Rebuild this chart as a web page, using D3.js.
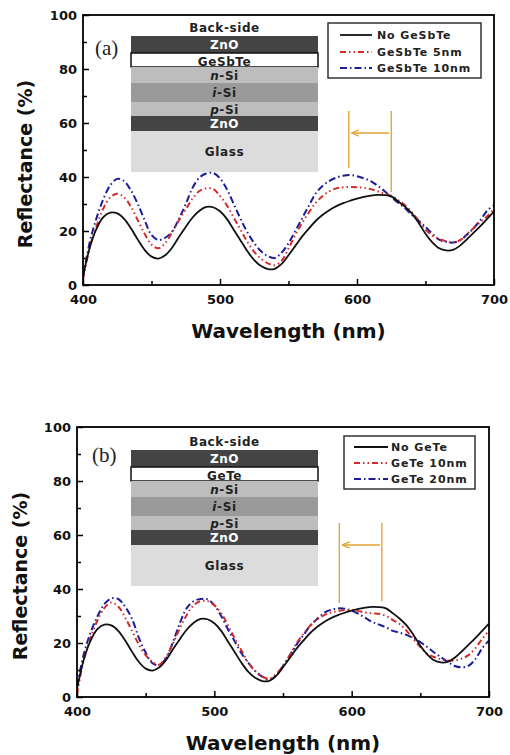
<!DOCTYPE html>
<html lang="en">
<head>
<meta charset="UTF-8">
<script src="https://cdn.jsdelivr.net/npm/d3@7/dist/d3.min.js"></script>
<title>Reflectance</title>
<style>
    body { margin: 0; background: #fff; }
    text { font-family: "DejaVu Sans", sans-serif; font-weight: bold; }
</style>
</head>
<body>
<script>

    // sampling grid, nm
    let wavelength = d3.range(400, 701, 5);

    // reflectance (%), 400..700 nm step 5
    let noLayer = [
        3, 14, 21, 25.2, 26.8, 26.5, 24.5, 21, 16.8, 13,
        10.5, 9.8, 11, 13.8, 17.8, 21.5, 25, 27.5, 28.9, 28.8,
        27.3, 24.5, 20.5, 16.5, 12.5, 9.2, 7, 5.9, 6, 7.8,
        11, 14.5, 18, 21, 23.8, 26, 27.8, 29.2, 30.3, 31.2,
        32, 32.6, 33.1, 33.4, 33.3, 32.8, 31, 29, 26.5, 23,
        19, 15.8, 13.6, 12.8, 13, 14.5, 16.8, 19.3, 21.8, 24.5,
        27.2];
    let gst5 = [
        2, 14, 22, 28.5, 32.5, 33.8, 32.5, 29, 24, 19,
        15, 13.6, 15.5, 19.5, 24, 28, 32, 34.8, 35.8, 35.6,
        33, 29.5, 25, 20.5, 16, 12.3, 9.7, 8, 7.3, 9,
        13.5, 18.5, 23, 27, 30.5, 33, 34.8, 35.8, 36.2, 36.3,
        36.2, 36, 35.5, 34.7, 33.8, 33, 31.5, 29.5, 27, 23.8,
        20.5, 18.3, 17, 16.2, 15.7, 16.5, 18.8, 21, 23.3, 25.5,
        28];
    let gst10 = [
        3, 16, 25, 32, 37, 39.3, 38.5, 35, 30, 24,
        18.5, 16.7, 17.5, 19.8, 24.5, 30, 36, 39.8, 41.3, 41.5,
        39.5, 35.5, 30, 24.5, 19.5, 15.5, 12.5, 10.7, 10, 12,
        15.5, 20, 24.8, 29.5, 34, 36.8, 38.6, 39.8, 40.5, 40.7,
        40.3, 39.5, 38.5, 36.8, 34.8, 32.5, 30.5, 28.5, 26, 23.8,
        21.5, 19, 16.8, 16, 15.7, 16.5, 18.5, 21, 24, 27.5,
        29.5];
    let gete10 = [
        1, 14, 22, 28.5, 33, 35, 33.5, 29.5, 24.5, 19.5,
        15.5, 13, 12, 15, 20, 25.5, 30.5, 34, 35.5, 35.5,
        34, 31, 26.5, 21.5, 17, 12.5, 9.5, 7.5, 6.8, 8.5,
        11.5, 15.5, 20, 23.5, 26.5, 28.8, 30.3, 31.3, 31.8, 32.2,
        32.2, 31.8, 31.3, 31, 30.8, 30, 28.5, 27, 24.5, 21.5,
        18.5, 16, 14.8, 14, 13.5, 13.6, 14.2, 15.5, 18, 21.5,
        24.5];
    let gete20 = [
        4, 16, 24, 30, 34.5, 36.5, 36.3, 33.5, 29, 22,
        16.5, 12.5, 11.8, 14.5, 20.5, 27.5, 33, 35.5, 36.3, 36.2,
        34, 30, 25, 20.5, 16, 12.5, 9.5, 7.5, 6.2, 8,
        11.5, 15.5, 19.5, 23, 26.5, 29, 31.2, 32.3, 32.8, 32.7,
        32, 30.8, 29.3, 27.8, 26.8, 25.8, 24.5, 23.8, 23, 21.8,
        20.3, 18.5, 16.5, 14.8, 13, 11.5, 11, 11.5, 14, 18,
        21];

    let xTicks = [400, 500, 600, 700];
    let xMinor = [450, 550, 650];
    let yTicks = [0, 20, 40, 60, 80, 100];
    let yMinor = [10, 30, 50, 70, 90];

    let legendA = ["No GeSbTe", "GeSbTe 5nm", "GeSbTe 10nm"];
    let legendB = ["No GeTe", "GeTe 10nm", "GeTe 20nm"];
    let layersA = ["ZnO", "GeSbTe", "n-Si", "i-Si", "p-Si", "ZnO", "Glass"];
    let layersB = ["ZnO", "GeTe", "n-Si", "i-Si", "p-Si", "ZnO", "Glass"];

    // peak shift marker [to, from] in nm
    let shiftA = [594, 625];
    let shiftB = [591, 622];

    let width = 510, height = 755;
    let svg = d3.select("body").append("svg")
        .attr("width", width)
        .attr("height", height);

    let lineStyles = [
        {color: "#111", dash: null, w: 1.8},
        {color: "#d42a2a", dash: "6,3,1.5,3,1.5,3", w: 2},
        {color: "#1c1c99", dash: "7,3,1.5,3", w: 2}
    ];
    let layerH = [17, 14, 16, 19, 14, 15, 41];
    let layerFill = {"ZnO": "#444", "n-Si": "#bdbdbd", "i-Si": "#9a9a9a", "p-Si": "#bdbdbd", "Glass": "#dcdcdc"};

    let panels = [
        {id: "a", tag: "(a)", series: [noLayer, gst5, gst10], legend: legendA, layers: layersA, shift: shiftA,
            left: 83, right: 494, top: 15, bottom: 285, tagX: 95, tagY: 55,
            insetX: 131, insetW: 187, insetY: 36, backY: 32, yLabX: 32,
            legBox: [328, 23, 153, 55], legLine: [340, 372], legText: 377, legRows: [35, 52, 68],
            markTop: 64.4, markLeft: 43.3, markRight: 34.4, arrowR: 56.3},
        {id: "b", tag: "(b)", series: [noLayer, gete10, gete20], legend: legendB, layers: layersB, shift: shiftB,
            left: 77, right: 489, top: 427, bottom: 697, tagX: 92, tagY: 462,
            insetX: 131, insetW: 187, insetY: 450, backY: 446, yLabX: 27,
            legBox: [344, 436, 131, 53], legLine: [354, 388], legText: 391, legRows: [447, 463, 479],
            markTop: 64.4, markLeft: 34.8, markRight: 35.5, arrowR: 56.3}
    ];

    svg.append("defs").append("marker")
        .attr("id", "arrow")
        .attr("viewBox", "0 0 10 10")
        .attr("refX", 9).attr("refY", 5)
        .attr("markerWidth", 6).attr("markerHeight", 6)
        .attr("orient", "auto")
        .append("path")
        .attr("d", "M0,1L10,5L0,9")
        .attr("fill", "none")
        .attr("stroke", "#e0a030")
        .attr("stroke-width", 1.5);

    panels.forEach(drawPanel);

    function drawPanel(p) {
        let x = d3.scaleLinear().domain([400, 700]).range([p.left, p.right]);
        let y = d3.scaleLinear().domain([0, 100]).range([p.bottom, p.top]);
        let g = svg.append("g");

        // ticks (inside)
        g.append("g").attr("transform", `translate(0,${p.bottom})`)
            .call(d3.axisBottom(x).tickValues(xTicks).tickSizeInner(-6).tickSizeOuter(0).tickPadding(10).tickFormat(d3.format("d")));
        g.append("g").attr("transform", `translate(0,${p.bottom})`)
            .call(d3.axisBottom(x).tickValues(xMinor).tickSizeInner(-4).tickSizeOuter(0).tickFormat(""));
        g.append("g").attr("transform", `translate(${p.left},0)`)
            .call(d3.axisLeft(y).tickValues(yTicks).tickSizeInner(-6).tickSizeOuter(0).tickPadding(6));
        g.append("g").attr("transform", `translate(${p.left},0)`)
            .call(d3.axisLeft(y).tickValues(yMinor).tickSizeInner(-4).tickSizeOuter(0).tickFormat(""));
        g.selectAll(".domain").remove();
        g.selectAll(".tick line").attr("stroke", "#000").attr("stroke-width", 1.5);
        g.selectAll(".tick text").attr("font-size", 13).attr("fill", "#111");

        // inset layer stack
        let inset = g.append("g");
        inset.append("text")
            .attr("x", p.insetX + p.insetW / 2).attr("y", p.backY)
            .attr("text-anchor", "middle").attr("font-size", 12)
            .attr("letter-spacing", 0.6).attr("fill", "#222")
            .text("Back-side");
        let yy = p.insetY;
        p.layers.forEach((name, i) => {
            let h = layerH[i];
            let isFilm = !(name in layerFill);
            inset.append("rect")
                .attr("x", p.insetX).attr("y", yy)
                .attr("width", p.insetW).attr("height", h)
                .attr("fill", isFilm ? "#fff" : layerFill[name])
                .attr("stroke", isFilm ? "#111" : "none")
                .attr("stroke-width", 1.5);
            let t = inset.append("text")
                .attr("x", p.insetX + p.insetW / 2)
                .attr("y", yy + h / 2).attr("dy", isFilm ? "0.5em" : "0.38em")
                .attr("text-anchor", "middle").attr("font-size", 12)
                .attr("letter-spacing", 0.6)
                .attr("fill", name === "ZnO" ? "#fff" : "#222");
            let m = name.match(/^([nip])(-Si)$/);
            if (m) {
                t.append("tspan").attr("font-style", "italic").text(m[1]);
                t.append("tspan").text(m[2]);
            } else {
                t.text(name);
            }
            yy += h;
        });

        // curves
        let clipId = "clip-" + p.id;
        g.append("clipPath").attr("id", clipId).append("rect")
            .attr("x", p.left).attr("y", p.top)
            .attr("width", p.right - p.left).attr("height", p.bottom - p.top);
        let line = d3.line()
            .x((d, i) => x(wavelength[i]))
            .y(d => y(d))
            .curve(d3.curveCatmullRom);
        let curves = g.append("g").attr("clip-path", `url(#${clipId})`);
        [2, 1, 0].forEach(k => {
            curves.append("path")
                .attr("d", line(p.series[k]))
                .attr("fill", "none")
                .attr("stroke", lineStyles[k].color)
                .attr("stroke-width", lineStyles[k].w)
                .attr("stroke-dasharray", lineStyles[k].dash);
        });

        // peak shift marker
        let mk = g.append("g").attr("stroke", "#e0a030").attr("stroke-width", 1.3);
        mk.append("line").attr("x1", x(p.shift[0])).attr("x2", x(p.shift[0]))
            .attr("y1", y(p.markTop)).attr("y2", y(p.markLeft));
        mk.append("line").attr("x1", x(p.shift[1])).attr("x2", x(p.shift[1]))
            .attr("y1", y(p.markTop)).attr("y2", y(p.markRight));
        mk.append("line").attr("x1", x(p.shift[1] - 1.5)).attr("x2", x(p.shift[0] + 2.5))
            .attr("y1", y(p.arrowR)).attr("y2", y(p.arrowR))
            .attr("marker-end", "url(#arrow)");

        // frame
        g.append("rect")
            .attr("x", p.left).attr("y", p.top)
            .attr("width", p.right - p.left).attr("height", p.bottom - p.top)
            .attr("fill", "none").attr("stroke", "#000").attr("stroke-width", 1.8);

        // legend
        let lb = p.legBox;
        let leg = g.append("g");
        leg.append("rect").attr("x", lb[0]).attr("y", lb[1])
            .attr("width", lb[2]).attr("height", lb[3])
            .attr("fill", "#fff").attr("stroke", "#333").attr("stroke-width", 1.5);
        p.legend.forEach((name, i) => {
            leg.append("line")
                .attr("x1", p.legLine[0]).attr("x2", p.legLine[1])
                .attr("y1", p.legRows[i]).attr("y2", p.legRows[i])
                .attr("stroke", lineStyles[i].color)
                .attr("stroke-width", lineStyles[i].w)
                .attr("stroke-dasharray", lineStyles[i].dash);
            leg.append("text")
                .attr("x", p.legText).attr("y", p.legRows[i]).attr("dy", "0.36em")
                .attr("font-size", 11).attr("letter-spacing", 0.9).attr("fill", "#222")
                .text(name);
        });

        // panel tag
        g.append("text")
            .attr("x", p.tagX).attr("y", p.tagY)
            .style("font-family", "'Liberation Serif', serif")
            .style("font-weight", "normal")
            .attr("font-size", 21).attr("fill", "#222")
            .text(p.tag);

        // axis titles
        g.append("text")
            .attr("x", (p.left + p.right) / 2).attr("y", p.bottom + 53)
            .attr("text-anchor", "middle").attr("font-size", 20).attr("fill", "#111")
            .text("Wavelength (nm)");
        g.append("text")
            .attr("transform", `translate(${p.yLabX},${p.top + 149}) rotate(-90)`)
            .attr("text-anchor", "middle").attr("font-size", 19).attr("fill", "#111")
            .text("Reflectance (%)");
    }

</script>
</body>
</html>
